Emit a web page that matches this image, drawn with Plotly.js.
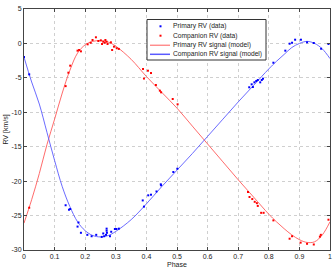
<!DOCTYPE html>
<html><head><meta charset="utf-8">
<script src="https://cdn.plot.ly/plotly-3.0.1.min.js"></script>
<style>html,body{margin:0;padding:0;background:#fff;}#chart{width:334px;height:272px;}</style>
</head><body><div id="chart"></div>
<script>
// ---- data ----
const primaryPhase = [0.000,0.017,0.136,0.147,0.151,0.175,0.178,0.186,0.207,0.221,0.236,0.254,0.259,0.262,0.268,0.270,0.270,0.271,0.281,0.285,0.297,0.302,0.310,0.388,0.392,0.406,0.415,0.433,0.447,0.448,0.488,0.501,0.736,0.744,0.748,0.753,0.759,0.764,0.772,0.777,0.781,0.815,0.854,0.868,0.876,0.886,0.905,0.925,0.947,0.971,0.995];
const primaryRV = [-1.97,-4.49,-23.5,-24.15,-24.05,-26.6,-26.0,-27.5,-27.8,-28.0,-27.8,-28.1,-27.6,-28.0,-27.8,-26.9,-27.2,-27.5,-28.0,-27.35,-26.95,-26.95,-26.9,-22.8,-23.7,-22.06,-21.97,-21.5,-20.46,-20.6,-18.67,-18.2,-6.37,-5.94,-6.33,-5.65,-5.46,-5.31,-5.65,-5.31,-5.12,-2.8,-1.05,-0.04,0.1,0.54,0.54,0.16,0.06,-0.77,-0.08];

const companionPhase = [0.017,0.136,0.145,0.151,0.175,0.180,0.186,0.208,0.218,0.224,0.235,0.243,0.251,0.255,0.259,0.264,0.266,0.270,0.273,0.284,0.288,0.294,0.303,0.310,0.389,0.392,0.405,0.415,0.431,0.444,0.448,0.486,0.502,0.732,0.737,0.746,0.754,0.761,0.764,0.775,0.783,0.815,0.868,0.876,0.904,0.925,0.947,0.967,0.970,0.995];
const companionRV = [-23.86,-6.2,-4.25,-3.23,-1.05,-0.95,-1.15,-0.13,0.1,0.5,0.89,0.35,0.45,-0.08,0.25,0.1,0.5,0.25,-0.08,0.16,-0.95,-0.47,-0.7,-0.8,-3.71,-5.1,-3.96,-4.3,-6.04,-6.86,-7.1,-8.07,-8.84,-21.58,-22.3,-22.6,-23.0,-23.2,-23.6,-24.6,-24.6,-25.7,-28.36,-28.0,-28.93,-29.1,-29.2,-28.06,-27.8,-25.6];

const modelPhase = [0,0.025,0.05,0.075,0.1,0.125,0.15,0.175,0.2,0.225,0.25,0.275,0.3,0.35,0.4,0.45,0.5,0.55,0.6,0.65,0.7,0.75,0.8,0.825,0.85,0.875,0.9,0.925,0.95,0.975,1.0];
// red curve (labelled "Primary RV signal (model)" in the legend)
const redModelRV = [-26.1,-22.7,-18.9,-14.7,-11.0,-7.2,-3.9,-1.4,-0.2,0.3,0.4,0.2,-0.4,-2.3,-4.8,-7.1,-9.4,-12.0,-14.6,-17.2,-19.8,-22.3,-24.8,-25.9,-26.9,-27.8,-28.5,-28.9,-28.8,-27.8,-25.9];
// blue curve (labelled "Companion RV signal (model)" in the legend)
const blueModelRV = [-2.0,-5.6,-8.8,-12.9,-17.0,-20.8,-23.7,-25.9,-27.2,-27.9,-28.1,-27.9,-27.3,-25.6,-23.3,-20.8,-18.4,-16.0,-13.5,-11.0,-8.5,-6.1,-3.7,-2.6,-1.6,-0.6,0.0,0.3,0.0,-0.8,-2.2];

const legendLabels = ["Primary RV (data)","Companion RV (data)","Primary RV signal (model)","Companion RV signal (model)"];
const xTickVals = [0,0.1,0.2,0.3,0.4,0.5,0.6,0.7,0.8,0.9,1];
const xTickText = ["0","0.1","0.2","0.3","0.4","0.5","0.6","0.7","0.8","0.9","1"];
const yTickVals = [-30,-25,-20,-15,-10,-5,0,5];
const yTickText = ["-30","-25","-20","-15","-10","-5","0","5"];

// ---- styling ----
const BLUE = "#0000ff", RED = "#ff0000";
const BLUE_LINE = "#5a5aff", RED_LINE = "#ff5a5a";
const FONT = "'Liberation Sans', Arial, sans-serif";
const W = 334, H = 272, M = {l:24, r:4, t:9, b:22};
const PW = W - M.l - M.r, PH = H - M.t - M.b;
const px2x = p => (p - M.l) / PW;
const px2y = p => 1 - (p - M.t) / PH;

const traces = [
  {x: modelPhase, y: redModelRV, mode: "lines", line: {color: RED_LINE, width: 0.9, shape: "spline"}, showlegend: false, hoverinfo: "skip"},
  {x: modelPhase, y: blueModelRV, mode: "lines", line: {color: BLUE_LINE, width: 0.9, shape: "spline"}, showlegend: false, hoverinfo: "skip"},
  {x: primaryPhase, y: primaryRV, mode: "markers", marker: {color: BLUE, size: 2, symbol: "square"}, showlegend: false},
  {x: companionPhase, y: companionRV, mode: "markers", marker: {color: RED, size: 2, symbol: "square"}, showlegend: false}
];

// ---- hand-built compact legend (MATLAB style) ----
const LG = {x0: 147, x1: 266, y0: 19.5, y1: 60};
const rowY = [26.3, 35.7, 45.2, 54.3];
const shapes = [
  {type: "rect", xref: "paper", yref: "paper", x0: px2x(LG.x0), x1: px2x(LG.x1), y0: px2y(LG.y1), y1: px2y(LG.y0),
   line: {color: "#333", width: 1}, fillcolor: "#ffffff", layer: "above"},
  {type: "rect", xref: "paper", yref: "paper", x0: px2x(159.5), x1: px2x(161.5), y0: px2y(rowY[0]+1), y1: px2y(rowY[0]-1),
   line: {width: 0}, fillcolor: BLUE, layer: "above"},
  {type: "rect", xref: "paper", yref: "paper", x0: px2x(159.5), x1: px2x(161.5), y0: px2y(rowY[1]+1), y1: px2y(rowY[1]-1),
   line: {width: 0}, fillcolor: RED, layer: "above"},
  {type: "line", xref: "paper", yref: "paper", x0: px2x(150), x1: px2x(170), y0: px2y(rowY[2]), y1: px2y(rowY[2]),
   line: {color: RED_LINE, width: 1}, layer: "above"},
  {type: "line", xref: "paper", yref: "paper", x0: px2x(150), x1: px2x(170), y0: px2y(rowY[3]), y1: px2y(rowY[3]),
   line: {color: BLUE_LINE, width: 1.5}, layer: "above"}
];
const annotations = legendLabels.map((t, i) => ({
  text: t, xref: "paper", yref: "paper", x: px2x(172), y: px2y(rowY[i]), xanchor: "left", yanchor: "middle",
  showarrow: false, font: {family: FONT, size: 6.7, color: "#222"}, borderpad: 0
}));

const axisCommon = {
  ticks: "inside", ticklen: 3, tickcolor: "#444", showline: true, linecolor: "#444", linewidth: 1,
  mirror: "allticks", showgrid: true, gridcolor: "#cfcfcf", griddash: "dot", gridwidth: 1, zeroline: false,
  tickfont: {family: FONT, size: 7, color: "#222"}, automargin: false
};

const layout = {
  width: W, height: H, margin: M, paper_bgcolor: "#fff", plot_bgcolor: "#fff",
  showlegend: false, font: {family: FONT, size: 7, color: "#222"},
  xaxis: Object.assign({}, axisCommon, {range: [0, 1], tickmode: "array", tickvals: xTickVals, ticktext: xTickText,
    title: {text: "Phase", font: {family: FONT, size: 7, color: "#222"}, standoff: 2}}),
  yaxis: Object.assign({}, axisCommon, {range: [-30, 5], tickmode: "array", tickvals: yTickVals, ticktext: yTickText,
    title: {text: "RV [km/s]", font: {family: FONT, size: 7, color: "#222"}, standoff: 2}}),
  shapes: shapes, annotations: annotations
};

Plotly.newPlot("chart", traces, layout, {staticPlot: true, displayModeBar: false});
</script>
</body></html>
